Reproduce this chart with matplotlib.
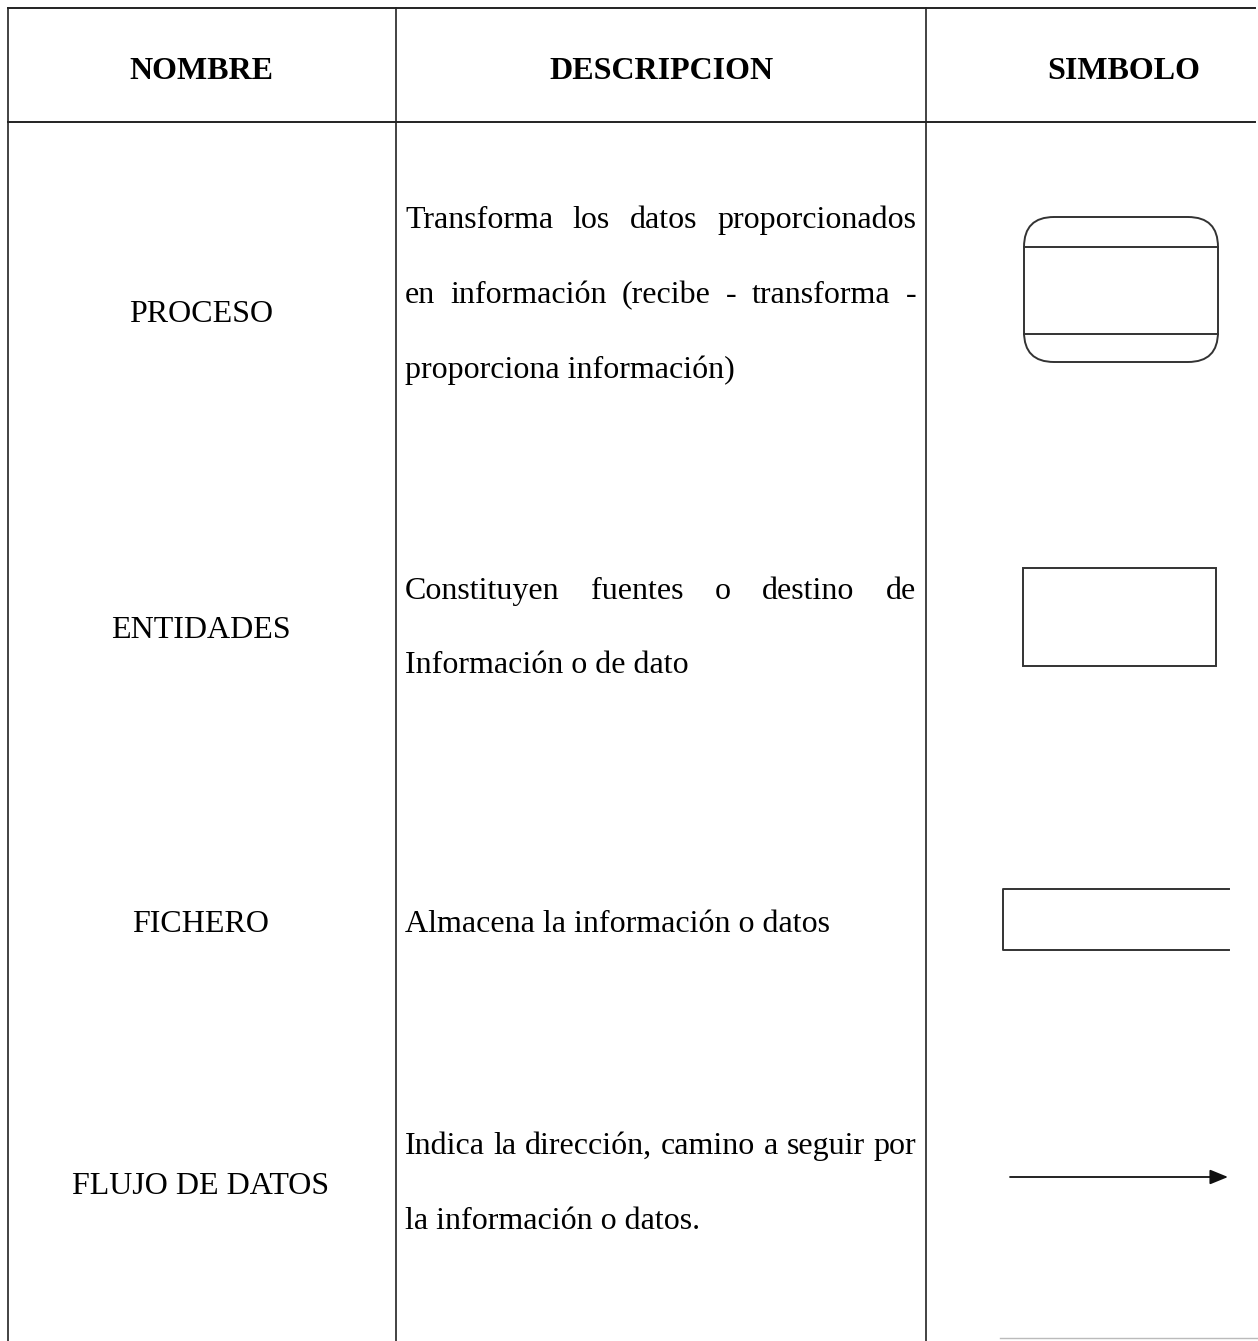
import matplotlib
matplotlib.use("Agg")
import matplotlib.pyplot as plt
from matplotlib.patches import FancyBboxPatch, Rectangle

headers = ["NOMBRE", "DESCRIPCION", "SIMBOLO"]
names = ["PROCESO", "ENTIDADES", "FICHERO", "FLUJO DE DATOS"]
descriptions = [
    ["Transforma los datos proporcionados",
     "en información (recibe - transforma -",
     "proporciona información)"],
    ["Constituyen fuentes o destino de",
     "Información o de dato"],
    ["Almacena la información o datos"],
    ["Indica la dirección, camino a seguir por",
     "la información o datos."],
]

W, H = 1258, 1341
FONT = "Liberation Serif"
FS = 23

# layout in pixel coords (baselines)
col_x = [8, 396, 926]
name_y = [322, 638, 932, 1194]
desc_y = [[228, 303, 378], [599, 673], [932], [1154, 1229]]
desc_left, desc_right = 405, 916

fig = plt.figure(figsize=(W / 100, H / 100), dpi=100)
ax = fig.add_axes([0, 0, 1, 1])
ax.set_xlim(0, W)
ax.set_ylim(H, 0)
ax.axis("off")

lc = "#222222"
# grid lines
ax.plot([8, 1255], [8, 8], color=lc, lw=1.4)
ax.plot([8, 1255], [122, 122], color=lc, lw=1.4)
for x in col_x:
    ax.plot([x, x], [8, H], color=lc, lw=1.2)
ax.plot([1000, 1258], [1338, 1338], color="#bbbbbb", lw=1.0)

# headers
head_x = [201, 661, 1124]
for x, h in zip(head_x, headers):
    ax.text(x, 79, h, ha="center", va="baseline", fontsize=FS,
            fontweight="bold", family=FONT)

# names
for y, n in zip(name_y, names):
    ax.text(201, y, n, ha="center", va="baseline", fontsize=FS, family=FONT)

# descriptions (justified where there is a following line)
fig.canvas.draw()
renderer = fig.canvas.get_renderer()
inv = ax.transData.inverted()


def text_width(s):
    t = ax.text(0, 0, s, fontsize=FS, family=FONT)
    bb = t.get_window_extent(renderer=renderer)
    t.remove()
    p0 = inv.transform((bb.x0, bb.y0))
    p1 = inv.transform((bb.x1, bb.y0))
    return p1[0] - p0[0]


for lines, ys in zip(descriptions, desc_y):
    for i, (line, y) in enumerate(zip(lines, ys)):
        last = i == len(lines) - 1
        words = line.split(" ")
        if last or len(words) < 2:
            ax.text(desc_left, y, line, ha="left", va="baseline",
                    fontsize=FS, family=FONT)
            continue
        widths = [text_width(w) for w in words]
        gap = (desc_right - desc_left - sum(widths)) / (len(words) - 1)
        x = desc_left
        for w, wd in zip(words, widths):
            ax.text(x, y, w, ha="left", va="baseline", fontsize=FS, family=FONT)
            x += wd + gap

# symbols
sc = "#333333"
proc = FancyBboxPatch((1024, 217), 194, 145,
                      boxstyle="round,pad=0,rounding_size=30",
                      fill=False, ec=sc, lw=1.4)
ax.add_patch(proc)
ax.plot([1024, 1218], [247, 247], color=sc, lw=1.4)
ax.plot([1024, 1218], [334, 334], color=sc, lw=1.4)

ax.add_patch(Rectangle((1023, 568), 193, 98, fill=False, ec=sc, lw=1.4))

ax.plot([1229, 1003, 1003, 1229], [889, 889, 950, 950], color=sc, lw=1.4)

ax.annotate("", xy=(1228, 1177), xytext=(1010, 1177),
            arrowprops=dict(arrowstyle="-|>,head_length=1.1,head_width=0.45",
                            color="#111111", lw=1.3, shrinkA=0, shrinkB=0))

fig.savefig("out.png", dpi=100)
